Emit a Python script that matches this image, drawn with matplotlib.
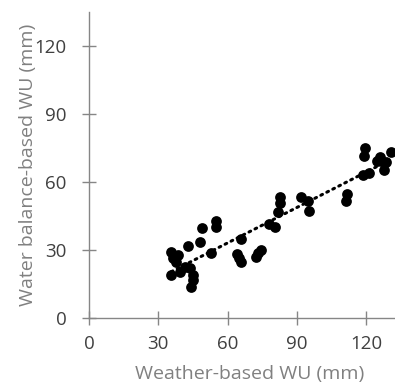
import numpy as np
import matplotlib.pyplot as plt

# weather-based vs water balance-based WU (mm)
weather_wu = [35.6, 36.4, 38.5, 35.6, 39.2, 41.4, 42.9, 43.6, 45.0, 44.3, 45.0,
              47.9, 49.1, 52.9, 54.8, 55.1, 37.5,
              65.7, 64.1, 64.9, 65.9, 72.4, 74.3, 73.0, 77.9, 80.4,
              82.5, 82.5, 81.8, 91.9, 94.8, 95.2, 111.8, 111.4,
              118.9, 119.4, 118.6, 121.2, 125.8, 126.5, 128.7, 127.6, 130.9, 124.5]
balance_wu = [29.3, 26.4, 27.9, 19.1, 20.5, 22.7, 31.8, 22.0, 19.1, 13.6, 16.9,
              33.7, 39.9, 28.6, 40.3, 43.0, 24.9,
              34.8, 28.3, 26.4, 24.9, 27.1, 29.8, 28.5, 41.5, 40.3,
              53.2, 50.6, 46.9, 53.2, 51.8, 47.4, 54.5, 51.6,
              71.4, 75.2, 63.0, 64.1, 71.1, 69.4, 68.9, 65.2, 73.3, 69.2]

x = np.array(weather_wu)
y = np.array(balance_wu)

plt.rcParams['font.family'] = ['Open Sans', 'DejaVu Sans']

fig = plt.figure(figsize=(3.95, 3.9), dpi=100)
ax = fig.add_axes([89 / 395, 72 / 390, 1 - 89 / 395, 306 / 390])

ax.scatter(x, y, s=60, color='black', zorder=3, linewidths=0)

# linear trendline
slope, intercept = np.polyfit(x, y, 1)
xs = np.array([x.min(), x.max()])
ax.plot(xs, slope * xs + intercept, color='black', lw=2.2,
        linestyle=(0, (0.6, 1.6)), dash_capstyle='round', zorder=4)

ax.set_xlim(0, 132.5)
ax.set_ylim(0, 135)
ax.set_xticks([0, 30, 60, 90, 120])
ax.set_yticks([0, 30, 60, 90, 120])

spine_col = '#868686'
for s in ['top', 'right']:
    ax.spines[s].set_visible(False)
for s in ['left', 'bottom']:
    ax.spines[s].set_color(spine_col)
    ax.spines[s].set_linewidth(1.0)

ax.tick_params(axis='both', direction='inout', length=10, width=1.0,
               color=spine_col, labelcolor='#404040', labelsize=13.5)
ax.tick_params(axis='x', pad=7)
ax.tick_params(axis='y', pad=11)

ax.set_xlabel('Weather-based WU (mm)', color='#808080', fontsize=14)
ax.xaxis.set_label_coords(0.526, -0.155)
ax.set_ylabel('Water balance-based WU (mm)', color='#808080', fontsize=14, labelpad=-2)

fig.savefig('out.png', dpi=100)
